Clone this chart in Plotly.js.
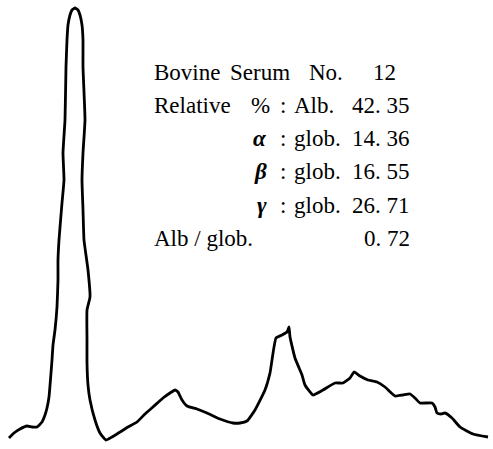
<!DOCTYPE html>
<html>
<head>
<meta charset="utf-8">
<script src="https://cdn.plot.ly/plotly-3.0.1.min.js"></script>
<style>html,body{margin:0;padding:0;background:#fff}#chart{width:493px;height:449px}</style>
</head>
<body>
<div id="chart"></div>
<script>
// Densitometer trace: migration position (px-scale units) vs optical density
const migration = [9,14,20,27,32,37,42,45,47,49,51,52,53,55,57,58,58,59,61,62,64,63,65,66,67,68,70,72,75,78,80,82,83,83,85,83,82,83,84,88,90,87,87,87,88,90,95,100,106,117,128,137,145,153,163,170,175,178,182,187,197,207,220,233,240,247,255,265,270,276,282,287,289,290,295,302,305,313,323,335,343,350,354,360,368,377,385,395,403,410,415,420,432,435,437,441,445,452,460,473,488];
const density   = [11,16,20,23,22,22,27,34,41,52,76,89,104,119,142,169,189,209,234,246,269,296,329,382,409,424,434,439,441,439,434,424,409,382,329,296,269,239,209,179,152,139,109,86,64,49,29,16,9,15,22,27,35,42,51,56,59,57,49,43,40,36,30,26,26,28,39,59,76,111,114,117,122,112,91,74,64,54,59,66,66,71,77,73,69,67,62,53,54,55,51,46,46,42,36,35,36,31,22,15,12];

// Annotation text
const headerWords = ["Bovine", "Serum", "No."];
const serumNo = "12";
const rowPrefix = ["Relative", "<b><i>α</i></b>", "<b><i>β</i></b>", "<b><i>γ</i></b>"];
const fractionNames = ["Alb.", "glob.", "glob.", "glob."];
const relativePct = ["42. 35", "14. 36", "16. 55", "26. 71"];
const ratioLabel = "Alb / glob.";
const ratioValue = "0. 72";

const H = 449;
const font = {family: "Liberation Serif, Times New Roman, serif", size: 23, color: "#000"};
const rowsY = [72, 105, 138, 171, 205, 238].map(v => H - v);
const ann = [];
function add(text, x, y, anchor) {
  ann.push({text: text, x: x, y: y, xref: "x", yref: "y", xanchor: anchor, yanchor: "middle", showarrow: false, font: font});
}
add(headerWords[0], 152, rowsY[0], "left");
add(headerWords[1], 228, rowsY[0], "left");
add(headerWords[2], 307, rowsY[0], "left");
add(serumNo, 384, rowsY[0], "center");
for (let i = 0; i < 4; i++) {
  const y = rowsY[i + 1];
  if (i === 0) { add(rowPrefix[i], 152, y, "left"); add("%", 249, y, "left"); }
  else add(rowPrefix[i], 269, y, "right");
  add(":", 283, y, "center");
  add(fractionNames[i], 292, y, "left");
  add(relativePct[i], 412, y, "right");
}
add(ratioLabel, 152, rowsY[5], "left");
add(ratioValue, 412, rowsY[5], "right");

Plotly.newPlot("chart", [{
  x: migration, y: density, type: "scatter", mode: "lines",
  line: {color: "#000", width: 2.8, shape: "spline", smoothing: 0.4},
  hoverinfo: "skip"
}], {
  width: 493, height: 449,
  margin: {l: 0, r: 0, t: 0, b: 0},
  paper_bgcolor: "#fff", plot_bgcolor: "#fff",
  showlegend: false,
  xaxis: {range: [0, 493], visible: false, fixedrange: true},
  yaxis: {range: [0, 449], visible: false, fixedrange: true},
  annotations: ann
}, {staticPlot: true});
</script>
</body>
</html>
